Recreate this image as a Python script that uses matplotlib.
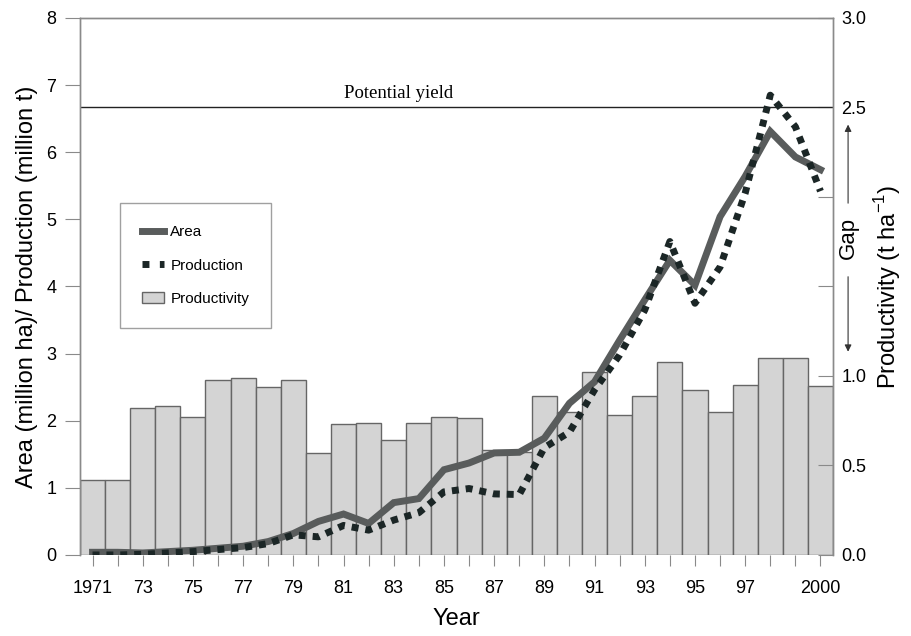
import numpy as np
import matplotlib.pyplot as plt
from matplotlib.lines import Line2D
from matplotlib.patches import Patch

plt.rcParams['font.family'] = ['Liberation Sans', 'DejaVu Sans']

years = list(range(1971, 2001))

# area (million ha)
area = [0.04, 0.04, 0.03, 0.05, 0.07, 0.10, 0.13, 0.20, 0.32, 0.50,
        0.61, 0.47, 0.78, 0.84, 1.27, 1.37, 1.52, 1.53, 1.74, 2.26,
        2.58, 3.20, 3.80, 4.39, 4.02, 5.04, 5.64, 6.31, 5.93, 5.74]

# production (million t)
production = [0.0, 0.0, 0.01, 0.03, 0.05, 0.08, 0.11, 0.17, 0.30, 0.27,
              0.44, 0.37, 0.52, 0.63, 0.94, 0.99, 0.91, 0.90, 1.60, 1.83,
              2.46, 2.98, 3.65, 4.67, 3.75, 4.29, 5.39, 6.85, 6.38, 5.42]

# productivity (t/ha)
productivity = [0.42, 0.42, 0.82, 0.83, 0.77, 0.98, 0.99, 0.94, 0.98, 0.57,
                0.73, 0.74, 0.64, 0.74, 0.77, 0.765, 0.585, 0.575, 0.89, 0.80,
                1.02, 0.78, 0.89, 1.08, 0.92, 0.80, 0.95, 1.10, 1.10, 0.945]

potential_yield = 2.5

tick_labels = ['1971', '', '73', '', '75', '', '77', '', '79', '', '81', '', '83', '',
               '85', '', '87', '', '89', '', '91', '', '93', '', '95', '', '97', '', '', '2000']

spine_col = '#8a8a8a'

fig = plt.figure(figsize=(9.12, 6.36), dpi=100)
ax = fig.add_axes([0.0877, 0.1274, 0.8257, 0.8443])
ax2 = ax.twinx()

# bars on the right axis
ax2.bar(years, productivity, width=1.0, color='#d4d4d4', edgecolor='#666666', linewidth=1.0)
ax2.set_ylim(0, 3.0)
ax2.set_yticks([0.0, 0.5, 1.0, 1.5, 2.0, 2.5, 3.0])
ax2.set_yticklabels(['0.0', '0.5', '1.0', '', '', '2.5', '3.0'])
ax2.axhline(potential_yield, color='#222222', lw=1.0)
ax2.text(1983.2, potential_yield + 0.03, 'Potential yield', family=['Liberation Serif', 'DejaVu Serif'],
         fontsize=13.5, ha='center', va='bottom')
ax2.set_ylabel('Productivity (t ha$^{\\mathregular{-1}}$)', fontsize=17, labelpad=4)
ax2.tick_params(axis='y', direction='in', length=11, color=spine_col, labelsize=13, pad=6)

# gap arrows
ax2.annotate('', xy=(1.02, 2.42), xytext=(1.02, 1.95), xycoords=('axes fraction', 'data'),
             textcoords=('axes fraction', 'data'),
             arrowprops=dict(arrowstyle='-|>', color='#333333', lw=0.8, mutation_scale=10))
ax2.annotate('', xy=(1.02, 1.12), xytext=(1.02, 1.57), xycoords=('axes fraction', 'data'),
             textcoords=('axes fraction', 'data'),
             arrowprops=dict(arrowstyle='-|>', color='#333333', lw=0.8, mutation_scale=10))
ax2.text(1.02, 1.77, 'Gap', transform=ax2.get_yaxis_transform(), rotation=90,
         ha='center', va='center', fontsize=16)

# lines on the left axis
ax.set_zorder(ax2.get_zorder() + 1)
ax.patch.set_visible(False)
ax.plot(years, area, color='#595c5c', lw=5, solid_joinstyle='miter', zorder=3)
ax.plot(years, production, color='#1b2626', lw=5, linestyle=(0, (1, 1)), zorder=4)

ax.set_xlim(1970.5, 2000.5)
ax.set_ylim(0, 8)
ax.set_yticks(range(0, 9))
ax.set_xticks(years)
ax.set_xticklabels(tick_labels)
ax.tick_params(axis='y', direction='out', length=11, color=spine_col, labelsize=13, pad=6)
ax.tick_params(axis='x', direction='out', length=8, color=spine_col, labelsize=13, pad=10)
ax.set_xlabel('Year', fontsize=17, labelpad=8)
ax.set_ylabel('Area (million ha)/ Production (million t)', fontsize=17, labelpad=6)

for a in (ax, ax2):
    a.spines['bottom'].set_visible(False)
    for s in ('left', 'right', 'top'):
        a.spines[s].set_color(spine_col)
        a.spines[s].set_linewidth(1.0)

handles = [Line2D([0], [0], color='#595c5c', lw=5),
           Line2D([0], [0], color='#1b2626', lw=5, linestyle=(0, (1, 1.5))),
           Patch(facecolor='#d4d4d4', edgecolor='#666666')]
leg = ax.legend(handles, ['Area', 'Production', 'Productivity'], loc='upper left',
                bbox_to_anchor=(0.053, 0.655), fontsize=11, frameon=True, fancybox=False,
                edgecolor='#888888', handlelength=1.45, labelspacing=1.25,
                borderpad=1.45, handletextpad=0.4, borderaxespad=0)
leg.get_frame().set_linewidth(1.0)

fig.savefig('out.png', dpi=100)
